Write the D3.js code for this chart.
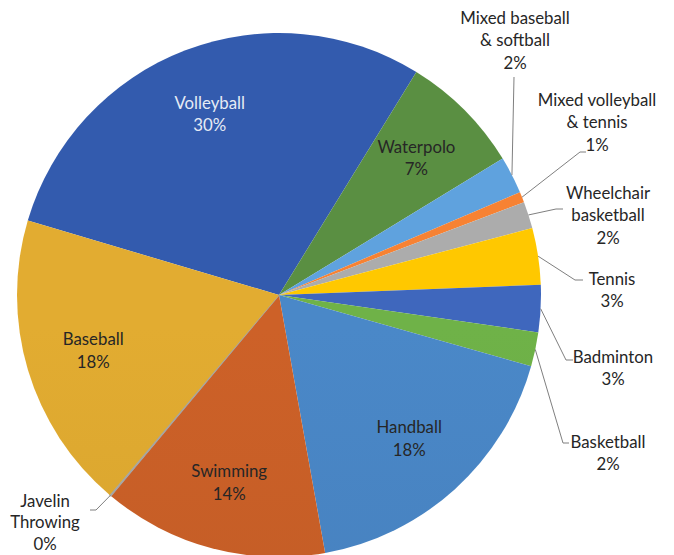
<!DOCTYPE html>
<html><head><meta charset="utf-8">
<script src="https://cdn.jsdelivr.net/npm/d3@7/dist/d3.min.js"></script>
<style>html,body{margin:0;padding:0;background:#fff;}svg{display:block;}</style>
</head><body>
<svg id="chart" width="674" height="555"></svg>
<script>
// ---- data ----
const categories = ["Volleyball","Waterpolo","Mixed baseball & softball","Mixed volleyball & tennis",
  "Wheelchair basketball","Tennis","Badminton","Basketball","Handball","Swimming","Javelin Throwing","Baseball"];
const values = [29.2, 7.5, 2.3, 0.65, 1.65, 3.5, 2.9, 2.1, 17.8, 13.9, 0.1, 18.4];
const pctLabels = ["30%","7%","2%","1%","2%","3%","3%","2%","18%","14%","0%","18%"];
const labelLines = [["Volleyball"],["Waterpolo"],["Mixed baseball","& softball"],["Mixed volleyball","& tennis"],
  ["Wheelchair","basketball"],["Tennis"],["Badminton"],["Basketball"],["Handball"],["Swimming"],["Javelin","Throwing"],["Baseball"]];
const colors = ["#3157a7","#56893f","#5b9bd5","#ed7d31","#a5a5a5","#ffc000","#3c63b5","#6aab45","#4782c0","#c45d26","#a5a5a5","#d9a52f"];

// ---- layout ----
const W = 674, H = 555, cx = 279, cy = 295, R = 262;
const startDeg = 286.5;
const fontFam = "Lato, 'Open Sans', sans-serif";
const fs = 16.8, lh = 22.5;
// outside label anchors: text center x, first line center y, line gap, leader bend points
const outside = {
  2: {x:515, y:18, gap:lh, pts:[[514,77]]},
  3: {x:597, y:100, gap:lh, pts:[[580,152],[586,152]]},
  4: {x:608, y:193, gap:lh, pts:[[556,209],[563,209]]},
  5: {x:612, y:279, gap:lh, pts:[[575,280],[583,280]]},
  6: {x:613, y:357, gap:lh, pts:[[566,360],[573,360]]},
  7: {x:608, y:442, gap:lh, pts:[[563,443],[569,443]]},
  10:{x:45,  y:501, gap:21.5, pts:[[96,510],[90,510]]}
};

const svg = d3.select("#chart");
const defs = svg.append("defs");
colors.forEach((c,i)=>{
  const g = defs.append("linearGradient").attr("id","g"+i)
    .attr("gradientUnits","userSpaceOnUse").attr("x1",0).attr("y1",cy-R).attr("x2",0).attr("y2",cy+R);
  g.append("stop").attr("offset","0%").attr("stop-color",d3.color(c).brighter(0.12));
  g.append("stop").attr("offset","100%").attr("stop-color",d3.color(c).darker(0.1));
});

const toRad = d => d*Math.PI/180;
const pie = d3.pie().sort(null).value(d=>d.v)
  .startAngle(toRad(startDeg)).endAngle(toRad(startDeg+360));
const data = categories.map((c,i)=>({c, v:values[i], i}));
const arcs = pie(data);
const arc = d3.arc().innerRadius(0).outerRadius(R);
const labelArc = d3.arc().innerRadius(R*0.74).outerRadius(R*0.74);

const g = svg.append("g").attr("transform",`translate(${cx},${cy})`);
g.selectAll("path.slice").data(arcs).join("path").attr("class","slice")
  .attr("d",arc).attr("fill",d=>`url(#g${d.data.i})`)
  .attr("stroke",d=>d.data.i===10?"#a5a5a5":"none").attr("stroke-width",d=>d.data.i===10?1.2:0);

function textBlock(x, y, lines, fill, gap){
  const t = svg.append("text").attr("font-family",fontFam).attr("font-size",fs)
    .attr("fill",fill).attr("text-anchor","middle");
  lines.forEach((l,k)=>{
    t.append("tspan").attr("x",x).attr("y",y+k*gap).attr("dy","0.35em").text(l);
  });
}

arcs.forEach(d=>{
  const i = d.data.i;
  const lines = labelLines[i].concat([pctLabels[i]]);
  if (outside[i]) {
    const o = outside[i];
    const mid = (d.startAngle+d.endAngle)/2;
    const p0 = [cx + R*Math.sin(mid), cy - R*Math.cos(mid)];
    const pts = [p0].concat(o.pts);
    svg.append("path").attr("d",d3.line()(pts)).attr("fill","none")
      .attr("stroke","#7f7f7f").attr("stroke-width",1);
    textBlock(o.x, o.y, lines, "#262626", o.gap);
  } else {
    const c = labelArc.centroid(d);
    const y0 = cy + c[1] - lh*(lines.length-1)/2;
    textBlock(cx + c[0], y0, lines, i===0 ? "#e6ebf5" : "#262626", lh);
  }
});
</script>
</body></html>
